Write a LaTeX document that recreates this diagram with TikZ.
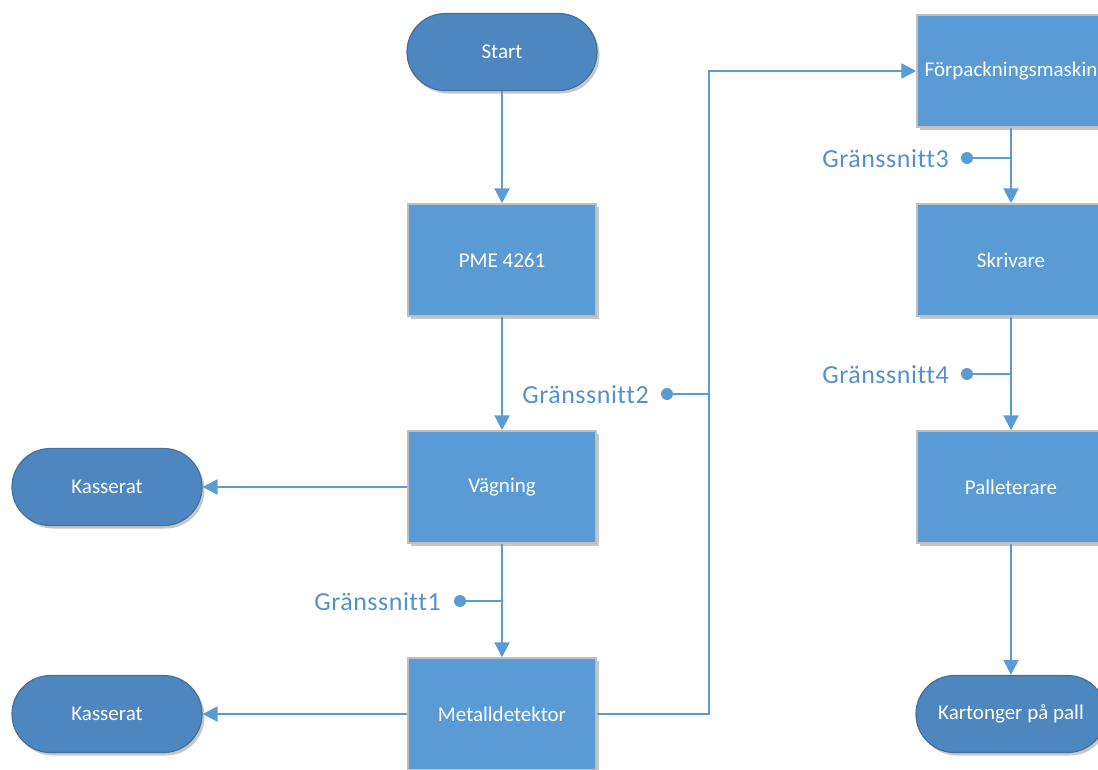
\documentclass[tikz,border=0pt]{standalone}
\usepackage{fontspec}
\setmainfont[Ligatures=NoCommon]{Carlito}
\usetikzlibrary{arrows.meta,shadows}
\definecolor{boxfill}{HTML}{5B9BD5}
\definecolor{termfill}{HTML}{4E87BF}
\definecolor{termdraw}{HTML}{41719C}
\definecolor{boxdraw}{HTML}{BFBFBF}
\definecolor{conn}{HTML}{5B9BD5}
\definecolor{lbl}{HTML}{5490CC}
\tikzset{
  procbox/.style={draw=boxdraw, line width=1.5pt, fill=boxfill, minimum width=188pt, minimum height=112pt,
    text=white, font=\fontsize{21}{25}\selectfont, inner sep=0pt,
    drop shadow={shadow xshift=2.5pt, shadow yshift=-3pt, opacity=0.22, fill=black}},
  termbox/.style={draw=termdraw, line width=1.2pt, fill=termfill, minimum width=190pt, minimum height=77pt,
    rounded corners=38.5pt, text=white, font=\fontsize{21}{25}\selectfont, inner sep=0pt,
    drop shadow={shadow xshift=2.5pt, shadow yshift=-3pt, opacity=0.22, fill=black}},
  flow/.style={draw=conn, line width=2.2pt, -{Triangle[width=15pt,length=15pt]}},
  plain/.style={draw=conn, line width=2.2pt},
  dotpt/.style={circle, fill=conn, minimum size=12pt, inner sep=0pt},
  ifacelbl/.style={text=lbl, font=\fontsize{26}{30}\selectfont\addfontfeature{LetterSpace=2}, anchor=east, inner sep=0pt}
}
\begin{document}
\begin{tikzpicture}[x=1pt,y=-1pt]
\useasboundingbox (0,0) rectangle (1098,769);
\clip (0,0) rectangle (1098,769);
% nodes
\node[termbox] (start) at (502,52) {Start};
\node[procbox] (pme) at (502,260) {PME 4261};
\node[procbox] (vag) at (502,487) {Vägning};
\node[procbox] (md) at (502,714) {Metalldetektor};
\node[termbox] (kas1) at (107,487) {Kasserat};
\node[termbox] (kas2) at (107,714) {Kasserat};
\node[procbox] (fp) at (1011,71) {Förpackningsmaskin};
\node[procbox] (skr) at (1011,260) {Skrivare};
\node[procbox] (pal) at (1011,487) {Palleterare};
\node[termbox] (kart) at (1011,714) {Kartonger på pall};
% connectors
\draw[flow] (start) -- (pme);
\draw[flow] (pme) -- (vag);
\draw[flow] (vag.west) -- (kas1.east);
\draw[flow] (vag) -- (md);
\draw[flow] (md.west) -- (kas2.east);
\coordinate (j2) at (709,394);
\draw[flow] (md.east) -| (j2) |- (fp.west);
\draw[flow] (fp) -- (skr);
\draw[flow] (skr) -- (pal);
\draw[flow] (pal) -- (kart);
% interfaces
\coordinate (j1) at (502,601);
\coordinate (j3) at (1011,158);
\coordinate (j4) at (1011,374);
\node[dotpt] (d1) at (460,601) {};
\node[dotpt] (d2) at (667,394) {};
\node[dotpt] (d3) at (967,158) {};
\node[dotpt] (d4) at (967,374) {};
\draw[plain] (d1.center) -- (j1);
\draw[plain] (d2.center) -- (j2);
\draw[plain] (d3.center) -- (j3);
\draw[plain] (d4.center) -- (j4);
\node[ifacelbl] (g1) at (441,602) {Gränssnitt1};
\node[ifacelbl] (g2) at (649,395) {Gränssnitt2};
\node[ifacelbl] (g3) at (949,159) {Gränssnitt3};
\node[ifacelbl] (g4) at (949,375) {Gränssnitt4};
\end{tikzpicture}
\end{document}
